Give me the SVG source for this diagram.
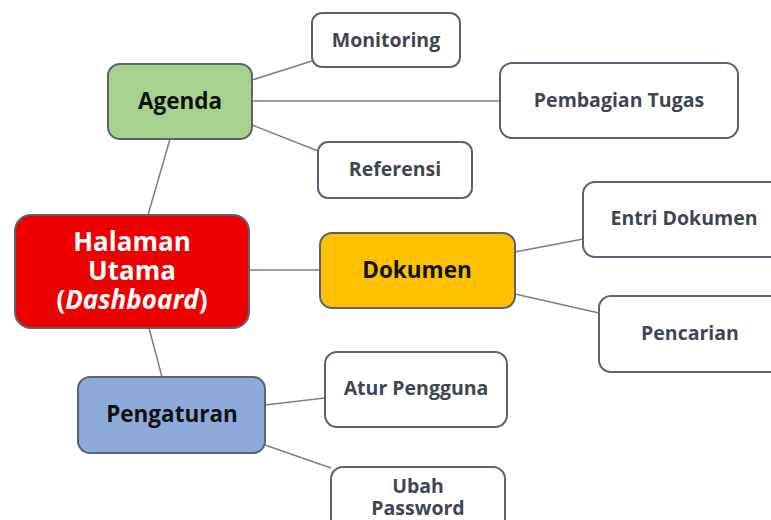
<svg xmlns="http://www.w3.org/2000/svg" width="771" height="520" viewBox="0 0 771 520">
  <style>
    .box { stroke: #5b6270; stroke-width: 2; }
    .leaf { fill: #ffffff; }
    .lbl { font-family: "Open Sans", "Liberation Sans", sans-serif; font-weight: bold; text-anchor: middle; }
    .leaf-t { font-size: 19.5px; fill: #3e4654; }
    .mid-t { font-size: 22.5px; fill: #111111; }
    .main-t { font-size: 26px; fill: #ffffff; }
    .edge { stroke: #7a7f88; stroke-width: 1.5; fill: none; }
  </style>
  <rect width="771" height="520" fill="#ffffff"/>

  <g id="connectors">
    <line class="edge" x1="148" y1="215" x2="170" y2="139"/>
    <line class="edge" x1="149" y1="328" x2="162" y2="377"/>
    <line class="edge" x1="249" y1="270" x2="320" y2="270"/>
    <line class="edge" x1="252" y1="80" x2="312" y2="61"/>
    <line class="edge" x1="252" y1="101" x2="500" y2="101"/>
    <line class="edge" x1="252" y1="125" x2="318" y2="151"/>
    <line class="edge" x1="515" y1="252" x2="583" y2="239"/>
    <line class="edge" x1="515" y1="294" x2="599" y2="313"/>
    <line class="edge" x1="265" y1="405" x2="325" y2="398"/>
    <line class="edge" x1="265" y1="445" x2="331" y2="468"/>
  </g>

  <g id="halaman-utama">
    <rect class="box" x="15" y="215" width="234" height="113" rx="16" fill="#ee0000"/>
    <text class="lbl main-t" x="132" y="251">Halaman</text>
    <text class="lbl main-t" x="132" y="280">Utama</text>
    <text class="lbl main-t" x="132" y="309">(<tspan font-style="italic">Dashboard</tspan>)</text>
  </g>

  <g id="agenda">
    <rect class="box" x="108" y="64" width="144" height="75" rx="12" fill="#a9d18e"/>
    <text class="lbl mid-t" x="180" y="109">Agenda</text>
  </g>

  <g id="dokumen">
    <rect class="box" x="320" y="233" width="195" height="75" rx="12" fill="#ffc000"/>
    <text class="lbl mid-t" x="417" y="278">Dokumen</text>
  </g>

  <g id="pengaturan">
    <rect class="box" x="78" y="377" width="187" height="76" rx="12" fill="#8eaadb"/>
    <text class="lbl mid-t" x="172" y="422">Pengaturan</text>
  </g>

  <g id="monitoring">
    <rect class="box leaf" x="312" y="13" width="148" height="54" rx="10"/>
    <text class="lbl leaf-t" x="386" y="47">Monitoring</text>
  </g>

  <g id="pembagian-tugas">
    <rect class="box leaf" x="500" y="63" width="238" height="75" rx="12"/>
    <text class="lbl leaf-t" x="619" y="107">Pembagian Tugas</text>
  </g>

  <g id="referensi">
    <rect class="box leaf" x="318" y="142" width="154" height="56" rx="10"/>
    <text class="lbl leaf-t" x="395" y="176">Referensi</text>
  </g>

  <g id="entri-dokumen">
    <rect class="box leaf" x="583" y="182" width="200" height="75" rx="12"/>
    <text class="lbl leaf-t" x="684" y="225">Entri Dokumen</text>
  </g>

  <g id="pencarian">
    <rect class="box leaf" x="599" y="296" width="184" height="76" rx="12"/>
    <text class="lbl leaf-t" x="690" y="340">Pencarian</text>
  </g>

  <g id="atur-pengguna">
    <rect class="box leaf" x="325" y="352" width="182" height="75" rx="12"/>
    <text class="lbl leaf-t" x="416" y="395">Atur Pengguna</text>
  </g>

  <g id="ubah-password">
    <rect class="box leaf" x="331" y="467" width="174" height="75" rx="12"/>
    <text class="lbl leaf-t" x="418" y="493">Ubah</text>
    <text class="lbl leaf-t" x="418" y="515">Password</text>
  </g>
</svg>
